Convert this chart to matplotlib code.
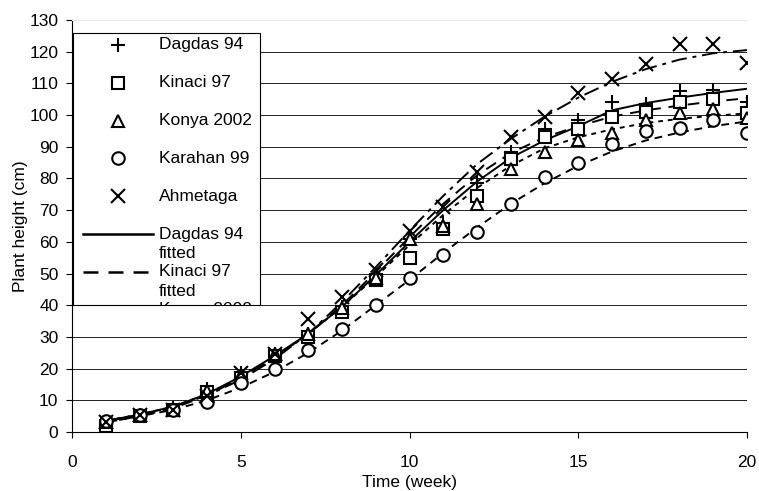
import matplotlib
matplotlib.use("Agg")
import matplotlib.pyplot as plt
from matplotlib.patches import Rectangle

plt.rcParams['font.family'] = ['Liberation Sans', 'DejaVu Sans']

# Measured plant heights (cm) per week
weeks = list(range(1, 21))
dagdas = [3, 5.5, 7.5, 13.5, 18.5, 24.5, 31, 39.5, 49, 61, 66, 78.5, 88.5, 95.5, 98.5, 104, 103.5, 107.5, 108, 104]
kinaci = [2, 5, 7, 12.5, 17, 24, 30, 38, 48, 55, 64, 74.5, 86, 93, 95.5, 99.5, 101, 104, 105, 100.5]
konya = [3, 5.5, 7, 13, 18, 24.5, 31, 39, 48.5, 61, 65, 72, 83, 88.5, 92, 94.5, 98.5, 100.5, 102, 99]
karahan = [3.5, 5.5, 7, 9.5, 15.5, 20, 26, 32.5, 40, 48.5, 56, 63, 72, 80.5, 85, 91, 95, 96, 98.5, 94.5]
ahmetaga = [3, 5.5, 7, 11.5, 18.5, 24.5, 35.5, 42.5, 51, 63.5, 71, 82, 93, 99.5, 107, 111.5, 116, 122.5, 122.5, 116.5]

# Fitted curves at each week
dagdas_fit = [3.5, 5.5, 8, 12, 17.5, 24, 31, 39.5, 49.5, 60, 70, 79, 86.5, 92, 96.5, 101.5, 103.8, 105.5, 107, 108.3]
kinaci_fit = [3, 5, 7.5, 11.5, 17, 23.5, 31, 40, 50.5, 61.5, 72, 81, 88, 93, 96.5, 99.5, 101.5, 103, 104.3, 105.3]
konya_fit = [3.5, 5.5, 8, 12, 17, 23.5, 31, 39.5, 49, 59, 68.5, 77, 84, 89.5, 93, 95.5, 97.5, 98.8, 99.8, 100.5]
karahan_fit = [3, 5, 7, 10, 14, 19, 25, 32, 40, 48, 56.5, 64.5, 72, 78.5, 84, 88.5, 92, 94.5, 96.5, 98]
ahmetaga_fit = [3.5, 5.5, 8, 11.5, 16.5, 23, 31, 41, 52, 63.5, 74.5, 84.5, 92.5, 99.5, 105.5, 110.5, 114.5, 117.5, 119.5, 120.5]

names = ['Dagdas 94', 'Kinaci 97', 'Konya 2002', 'Karahan 99', 'Ahmetaga']
observed = [dagdas, kinaci, konya, karahan, ahmetaga]
fitted = [dagdas_fit, kinaci_fit, konya_fit, karahan_fit, ahmetaga_fit]
markers = [('+', 10), ('s', 8.5), ('^', 9), ('o', 9), ('x', 10)]
styles = ['-', (0, (6, 4)), (0, (2.5, 2.5)), (0, (4, 3)), (0, (8, 3, 2, 3))]

fig = plt.figure(figsize=(7.59, 4.91), dpi=100)
ax = fig.add_axes([72 / 759, 1 - 432 / 491, 675 / 759, 412 / 491])

for fit, ls in zip(fitted, styles):
    ax.plot(weeks, fit, color='black', lw=1.4, ls=ls, zorder=3)

for vals, (m, ms) in zip(observed, markers):
    ax.plot(weeks, vals, ls='none', marker=m, ms=ms, mew=1.5,
            mec='black', mfc='white', zorder=4)

ax.set_xlim(0, 20)
ax.set_ylim(0, 130)
ax.set_xticks(range(0, 21, 5))
ax.set_yticks(range(0, 131, 10))
ax.tick_params(direction='out', length=4.3, width=0.8, labelsize=12.5)
ax.tick_params(axis='x', pad=12)
ax.tick_params(axis='y', pad=5.5)
ax.yaxis.grid(True, color='#222222', lw=0.7)
ax.get_ygridlines()[-1].set_color('#ececec')
ax.set_axisbelow(True)
ax.spines['right'].set_visible(False)
ax.spines['top'].set_color('#ececec')
ax.spines['left'].set_linewidth(0.8)
ax.spines['bottom'].set_linewidth(0.8)
ax.set_xlabel('Time (week)', fontsize=12.5, labelpad=4)
ax.set_ylabel('Plant height (cm)', fontsize=12.5, labelpad=1)


# legend box, drawn by hand so that it is cut off like the original
def ax_pt(px, py):
    return (px - 72) / 675, (432 - py) / 412


box = Rectangle(ax_pt(73, 305), (260 - 73) / 675, (305 - 33) / 412,
                transform=ax.transAxes, fc='white', ec='black', lw=0.8, zorder=5)
ax.add_patch(box)

legend_items = []
for i, name in enumerate(names + names):
    y = 45 + 37.8 * i
    if i < 5:
        m, ms = markers[i]
        legend_items += ax.plot(*ax_pt(118, y), marker=m, ms=ms, mew=1.5, mec='black',
                                mfc='white', ls='none', transform=ax.transAxes, zorder=6)
        legend_items.append(ax.text(*ax_pt(159, y), name, transform=ax.transAxes,
                                    va='center', fontsize=12.5, zorder=6))
    else:
        x0, y0 = ax_pt(83, y)
        x1, _ = ax_pt(153, y)
        legend_items += ax.plot([x0, x1], [y0, y0], color='black', lw=1.8, ls=styles[i - 5],
                                transform=ax.transAxes, zorder=6)
        legend_items.append(ax.text(*ax_pt(159, y), name, transform=ax.transAxes,
                                    va='center', fontsize=12.5, zorder=6))
        legend_items.append(ax.text(*ax_pt(159, y + 20), 'fitted', transform=ax.transAxes,
                                    va='center', fontsize=12.5, zorder=6))

for item in legend_items:
    item.set_clip_on(True)
    item.set_clip_path(box)

fig.savefig('out.png', dpi=100)
